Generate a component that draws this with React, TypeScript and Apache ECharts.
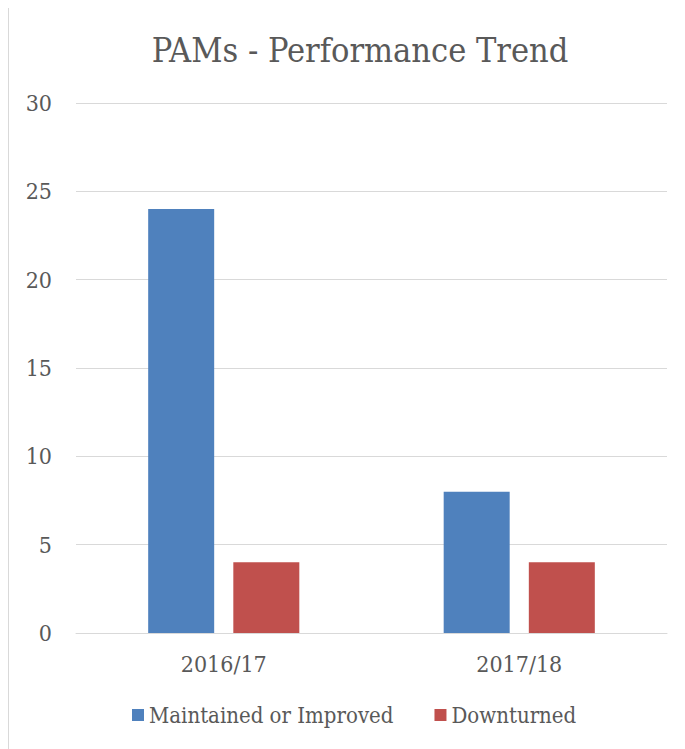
import React, { useEffect, useRef } from "react";
import * as echarts from "echarts";

const categories = ["2016/17", "2017/18"];
const maintainedOrImproved = [24, 8];
const downturned = [4, 4];
const seriesNames = ["Maintained or Improved", "Downturned"];
const titleText = "PAMs - Performance Trend";

const FONT = "'DejaVu Serif Condensed', 'DejaVu Serif', serif";

export default function App() {
  const ref = useRef<HTMLDivElement>(null);
  useEffect(() => {
    if (!ref.current) return;
    const chart = echarts.init(ref.current, undefined, { renderer: "svg" });
    chart.setOption({
      animation: false,
      backgroundColor: "#ffffff",
      title: {
        text: titleText,
        left: 346,
        textAlign: "center",
        top: 21,
        textStyle: { fontFamily: FONT, fontSize: 34, fontWeight: "normal", color: "#595959" },
      },
      legend: {
        top: 692,
        left: 118,
        itemWidth: 12,
        itemHeight: 12,
        itemGap: 41,
        icon: "rect",
        textStyle: { fontFamily: FONT, fontSize: 22, color: "#595959" },
        data: seriesNames,
      },
      grid: { left: 67, right: 18, top: 96, bottom: 116 },
      xAxis: {
        type: "category",
        data: categories,
        axisLine: { lineStyle: { color: "#d9d9d9", width: 1 } },
        axisTick: { show: false },
        axisLabel: { fontFamily: FONT, fontSize: 23, color: "#595959", margin: 19 },
      },
      yAxis: {
        type: "value",
        min: 0,
        max: 30,
        interval: 5,
        axisLine: { show: false },
        axisTick: { show: false },
        splitLine: { lineStyle: { color: "#d9d9d9", width: 1 } },
        axisLabel: { fontFamily: FONT, fontSize: 23, color: "#595959", margin: 24 },
      },
      series: [
        {
          name: seriesNames[0],
          type: "bar",
          data: maintainedOrImproved,
          barWidth: 66,
          barGap: "29%",
          itemStyle: { color: "#4F81BD" },
        },
        {
          name: seriesNames[1],
          type: "bar",
          data: downturned,
          barWidth: 66,
          itemStyle: { color: "#C0504D" },
        },
      ],
    });
    return () => chart.dispose();
  }, []);
  return (
    <div
      style={{
        width: 677,
        height: 743,
        marginTop: -2,
        borderLeft: "1px solid #d9d9d9",
        borderTop: "1px solid #d9d9d9",
        boxSizing: "border-box",
      }}
    >
      <div ref={ref} style={{ width: 676, height: 742 }} />
    </div>
  );
}
